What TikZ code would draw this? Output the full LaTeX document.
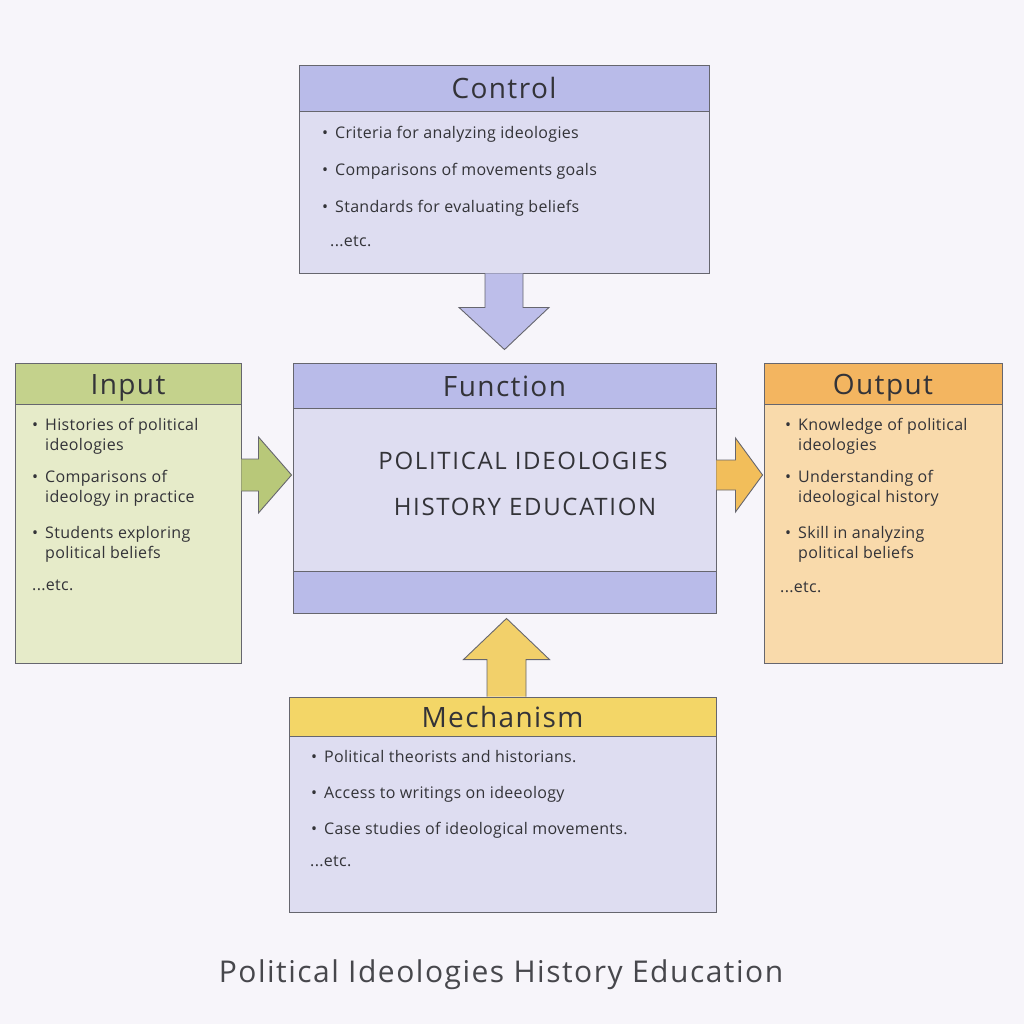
\documentclass[tikz,border=0pt]{standalone}
\usepackage{fontspec}
\setmainfont{Open Sans}
\usetikzlibrary{calc,positioning}

\definecolor{paper}{HTML}{F7F5FA}
\definecolor{boxline}{HTML}{66666E}
\definecolor{ink}{HTML}{333338}
\definecolor{lavhead}{HTML}{B9BBE9}
\definecolor{lavbody}{HTML}{DEDDF1}
\definecolor{lavarrow}{HTML}{BDBEEA}
\definecolor{grnhead}{HTML}{C4D28C}
\definecolor{grnbody}{HTML}{E6EBC9}
\definecolor{grnarrow}{HTML}{B8C879}
\definecolor{orghead}{HTML}{F3B560}
\definecolor{orgbody}{HTML}{F9DAAB}
\definecolor{orgarrow}{HTML}{F2BE5A}
\definecolor{ylwhead}{HTML}{F3D667}
\definecolor{ylwarrow}{HTML}{F2D06A}

\tikzset{
	box/.style={draw=boxline, line width=0.9pt, inner sep=0pt},
	boxtitle/.style={box, text=ink, text height=24pt, text depth=2pt, font=\fontsize{28}{32}\selectfont\addfontfeature{LetterSpace=5}},
	item/.style={anchor=base west, align=left, inner sep=0pt, text=ink, font=\fontsize{16}{20}\selectfont\addfontfeature{LetterSpace=2}},
	fatarrow/.style={draw=boxline, line width=0.9pt, line join=miter},
	bigtext/.style={text=ink, inner sep=0pt, font=\fontsize{24}{28}\selectfont\addfontfeature{LetterSpace=7}},
}

\begin{document}
\begin{tikzpicture}[x=1pt, y=-1pt]
	\newcommand\bitem[4]{ %% argument 1: name, 2: x, 3: baseline y, 4: text
		\node[item] (#1) at (#2,#3) {#4};
		\node[item] (#1dot) at (#2-13,#3) {•};
	}
	\newcommand\bitemtwo[5]{ %% two lines: the node's base is its last line
		\node[item] (#1) at (#2,#3+20) {#4\\#5};
		\node[item] (#1dot) at (#2-13,#3) {•};
	}

	\fill[paper] (0,0) rectangle (1024,1024);
	\useasboundingbox (0,0) rectangle (1024,1024);

	% boxes
	\node[box, fill=lavbody, minimum width=410pt, minimum height=208pt] (control) at (504,169) {};
	\node[boxtitle, fill=lavhead, minimum width=410pt, minimum height=46pt, anchor=north] (controlhead) at (control.north) {Control};

	\node[box, fill=lavbody, minimum width=423pt, minimum height=250pt] (function) at (504.5,488) {};
	\node[boxtitle, fill=lavhead, minimum width=423pt, minimum height=45pt, anchor=north] (functionhead) at (function.north) {Function};
	\node[box, fill=lavhead, minimum width=423pt, minimum height=42pt, anchor=south] (functionfoot) at (function.south) {};

	\node[box, fill=grnbody, minimum width=226pt, minimum height=300pt] (input) at (128,513) {};
	\node[boxtitle, fill=grnhead, minimum width=226pt, minimum height=41pt, anchor=north] (inputhead) at (input.north) {Input};

	\node[box, fill=orgbody, minimum width=238pt, minimum height=300pt] (output) at (883,513) {};
	\node[boxtitle, fill=orghead, minimum width=238pt, minimum height=41pt, anchor=north] (outputhead) at (output.north) {Output};

	\node[box, fill=lavbody, minimum width=427pt, minimum height=215pt] (mechanism) at (502.5,804.5) {};
	\node[boxtitle, fill=ylwhead, minimum width=427pt, minimum height=39pt, anchor=north] (mechanismhead) at (mechanism.north) {Mechanism};

	% block arrows
	\draw[fatarrow, fill=lavarrow] ($(control.south)+(-19,0)$) -- ++(0,34) -- ++(-26,0)
		-- ($(function.north)+(0,-13)$) -- ($(control.south)+(45,34)$) -- ++(-26,0) -- ($(control.south)+(19,0)$);
	\coordinate (inarrow) at ($(input.east)+(0,-38)$);
	\draw[fatarrow, fill=grnarrow] ($(inarrow)+(0,-16)$) -- ++(17,0) -- ++(0,-22)
		-- ($(function.west)+(-1,-13)$) -- ($(inarrow)+(17,38)$) -- ++(0,-22) -- ($(inarrow)+(0,16)$);
	\coordinate (outarrow) at ($(function.east)+(0,-13)$);
	\draw[fatarrow, fill=orgarrow] ($(outarrow)+(0,-15)$) -- ++(19,0) -- ++(0,-22)
		-- ($(output.west)+(-1,-38)$) -- ($(outarrow)+(19,37)$) -- ++(0,-22) -- ($(outarrow)+(0,15)$);
	\coordinate (mecharrow) at ($(mechanism.north)+(4,0)$);
	\draw[fatarrow, fill=ylwarrow] ($(mecharrow)+(-19.5,0)$) -- ++(0,-37) -- ++(-23.5,0)
		-- ($(function.south)+(2,5)$) -- ($(mecharrow)+(43,-37)$) -- ++(-23.5,0) -- ($(mecharrow)+(19.5,0)$);

	% control
	\bitem{ctl1}{335}{139}{Criteria for analyzing ideologies}
	\bitem{ctl2}{335}{176}{Comparisons of movements goals}
	\bitem{ctl3}{335}{213}{Standards for evaluating beliefs}
	\node[item] (ctletc) at (330,246) {...etc.};

	% function
	\node[bigtext] (fun1) at (523,461) {POLITICAL IDEOLOGIES};
	\node[bigtext] (fun2) at (525,507) {HISTORY EDUCATION};

	% input
	\bitemtwo{in1}{45}{430}{Histories of political}{ideologies}
	\bitemtwo{in2}{45}{482}{Comparisons of}{ideology in practice}
	\bitemtwo{in3}{45}{538}{Students exploring}{political beliefs}
	\node[item] (inetc) at (32,590) {...etc.};

	% output
	\bitemtwo{out1}{798}{430}{Knowledge of political}{ideologies}
	\bitemtwo{out2}{798}{482}{Understanding of}{ideological history}
	\bitemtwo{out3}{798}{538}{Skill in analyzing}{political beliefs}
	\node[item] (outetc) at (780,592) {...etc.};

	% mechanism
	\bitem{mech1}{324}{762}{Political theorists and historians.}
	\bitem{mech2}{324}{798}{Access to writings on ideeology}
	\bitem{mech3}{324}{834}{Case studies of ideological movements.}
	\node[item] (mechetc) at (310,866) {...etc.};

	\node[text=ink!90, font=\fontsize{30}{34}\selectfont\addfontfeature{LetterSpace=5}] (caption) at (501,975) {Political Ideologies History Education};
\end{tikzpicture}
\end{document}
